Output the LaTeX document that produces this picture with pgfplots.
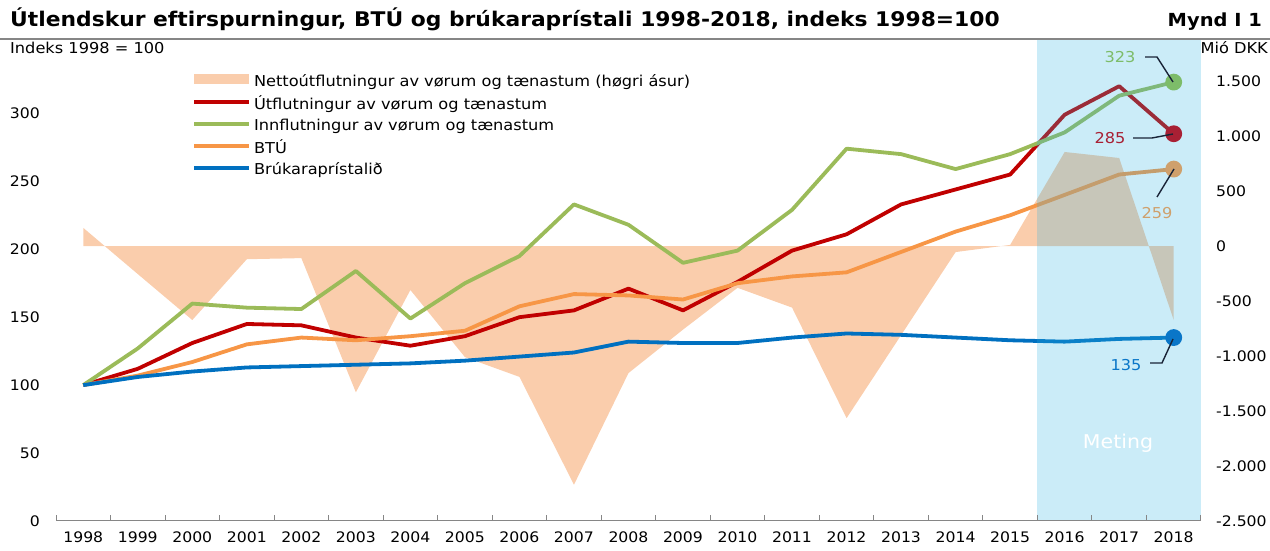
\documentclass[border=0pt]{standalone}
\usepackage{fontspec}
\setmainfont{DejaVu Sans}[FakeStretch=1.08]
\usepackage{pgfplots}
\usepackage{pgfplotstable}
\pgfplotsset{compat=1.18}

\definecolor{cRed}{RGB}{192,0,0}
\definecolor{cGreen}{RGB}{155,187,89}
\definecolor{cOrange}{RGB}{247,150,70}
\definecolor{cBlue}{RGB}{0,112,192}
\definecolor{cPeach}{RGB}{250,205,172}
\definecolor{cShade}{RGB}{47,179,227}
\definecolor{cAxis}{RGB}{134,134,134}
\definecolor{cLead}{RGB}{25,35,55}
\definecolor{lGreen}{RGB}{125,188,105}
\definecolor{lRed}{RGB}{168,32,52}
\definecolor{lOrange}{RGB}{207,160,108}
\definecolor{lBlue}{RGB}{10,118,200}

\newcommand{\tickfont}{\fontsize{14.5}{17}\selectfont}
\newcommand{\legfont}{\fontsize{15}{17}\selectfont}

\pgfplotsset{
  frame/.style={
    scale only axis, width=1145pt, height=481pt,
    at={(56pt,30pt)}, anchor=south west,
    xmin=1997.5, xmax=2018.5,
  },
  arealegend/.style={
    legend image code/.code={\fill[#1] (0pt,-3pt) rectangle (55pt,7pt);}
  },
}

% index 1998=100; net = net exports, mio DKK (right axis)
\pgfplotstableread{
year exp imp gdp cpi net
1998 100 100 100 100 165
1999 112 127 107 106 -255
2000 131 160 117 110 -673
2001 145 157 130 113 -120
2002 144 156 135 114 -110
2003 135 184 133 115 -1330
2004 129 149 136 116 -400
2005 136 175 140 118 -1010
2006 150 195 158 121 -1190
2007 155 233 167 124 -2170
2008 171 218 166 132 -1155
2009 155 190 163 131 -760
2010 176 199 175 131 -380
2011 199 229 180 135 -560
2012 211 274 183 138 -1565
2013 233 270 198 137 -810
2014 244 259 213 135 -55
2015 255 270 225 133 10
2016 299 286 240 132 855
2017 320 313 255 134 800
2018 285 323 259 135 -673
}\data

\begin{document}
\begin{tikzpicture}[x=1pt,y=1pt]
\useasboundingbox (0,0) rectangle (1270,551);

% right axis: net exports
\begin{axis}[frame,
  ymin=-2500, ymax=1873,
  axis x line=none, axis y line*=right,
  y axis line style={draw=none},
  ytick={-2500,-2000,...,1500}, major tick length=0pt,
  yticklabel style={anchor=west, inner sep=0pt, xshift=15pt, font=\tickfont},
  /pgf/number format/assume math mode=true,
  /pgf/number format/1000 sep={.},
]
\addplot[draw=none, fill=cPeach] table[x=year, y=net] {\data} \closedcycle;
\end{axis}

% left axis: indices
\begin{axis}[frame,
  ymin=0, ymax=354,
  axis x line*=bottom, axis y line*=left,
  y axis line style={draw=none},
  x axis line style={cAxis, line width=1pt, -},
  tick align=inside,
  xtick={1998,...,2018},
  minor xtick={1997.5,1998.5,...,2018.5},
  major x tick style={draw=none},
  minor tick length=6pt,
  minor x tick style={cAxis, line width=1pt},
  ytick={0,50,...,300},
  major y tick style={draw=none},
  xticklabel style={font=\tickfont, inner sep=0pt, yshift=-11pt},
  yticklabel style={font=\tickfont, inner sep=0pt, anchor=east, xshift=-16pt},
  x tick label style={/pgf/number format/1000 sep={}},
  /pgf/number format/assume math mode=true,
  axis on top,
  legend style={at={(rel axis cs:0.1188,0.9293)}, anchor=north west,
    draw=none, fill=none, font=\legfont, row sep=7.8pt, column sep=3pt,
    inner sep=0pt, nodes={inner sep=0pt},
    column 2/.style={text height=12pt, text depth=4pt}},
  legend cell align=left,
  legend image code/.code={\draw[#1] (0pt,1.5pt) -- (55pt,1.5pt);},
  every axis plot/.append style={line width=3.8pt, line join=round},
]
\addlegendimage{draw=none, fill=cPeach, arealegend}
\addlegendentry{Nettoútflutningur av vørum og tænastum (høgri ásur)}
\addplot[cRed] table[x=year, y=exp] {\data};
\addlegendentry{Útflutningur av vørum og tænastum}
\addplot[cGreen] table[x=year, y=imp] {\data};
\addlegendentry{Innflutningur av vørum og tænastum}
\addplot[cOrange] table[x=year, y=gdp] {\data};
\addlegendentry{BTÚ}
\addplot[cBlue] table[x=year, y=cpi] {\data};
\addlegendentry{Brúkaraprístalið}

% forecast period
\fill[cShade, fill opacity=0.25] (axis cs:2015.5,0) rectangle (axis cs:2018.5,354);

% end points (colours as seen through the shading)
\addplot[forget plot, only marks, mark=*, mark size=6.5pt, lGreen] coordinates {(2018,323)};
\addplot[forget plot, only marks, mark=*, mark size=6.5pt, lRed] coordinates {(2018,285)};
\addplot[forget plot, only marks, mark=*, mark size=6.5pt, lOrange] coordinates {(2018,259)};
\addplot[forget plot, only marks, mark=*, mark size=6.5pt, lBlue] coordinates {(2018,135)};
\end{axis}

% titles and notes
\node[anchor=base west, inner sep=0pt, font=\fontsize{20.2}{24}\selectfont\bfseries]
  at (10,524) {Útlendskur eftirspurningur, BTÚ og brúkaraprístali 1998-2018, indeks 1998=100};
\node[anchor=base east, inner sep=0pt, font=\fontsize{18}{22}\selectfont\bfseries]
  at (1262,524) {Mynd I 1};
\draw[cAxis, line width=1.2pt] (0,512) -- (1270,512);
\node[anchor=base west, inner sep=0pt, font=\fontsize{15}{17}\selectfont] at (10,497) {Indeks 1998 = 100};
\node[anchor=base east, inner sep=0pt, font=\fontsize{15}{17}\selectfont] at (1268,497) {Mió DKK};
\node[white, font=\fontsize{19}{23}\selectfont] at (1118,108) {Meting};

% end labels
\begin{scope}[cLead, line width=1.4pt]
\draw (1145,494) -- (1157,494) -- (1173,469);
\draw (1133,413) -- (1152,413) -- (1173,417);
\draw (1157,354) -- (1174,382);
\draw (1150,188) -- (1162,188) -- (1173,212);
\end{scope}
\begin{scope}[font=\fontsize{15}{18}\selectfont]
\node[lGreen] at (1120,494) {323};
\node[lRed] at (1110,413) {285};
\node[lOrange] at (1157,338) {259};
\node[lBlue] at (1126,186) {135};
\end{scope}
\end{tikzpicture}
\end{document}
